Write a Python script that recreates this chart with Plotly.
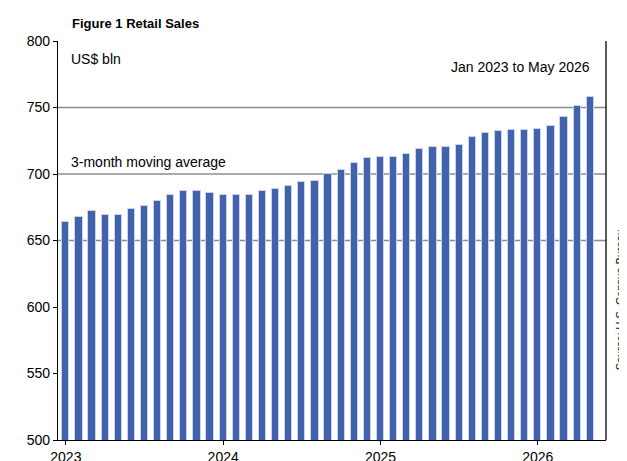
import plotly.graph_objects as go

months = list(range(41))
sales = [664, 668, 672, 669, 669, 674, 676, 680, 684, 687, 687, 686,
         684, 684, 684, 687, 689, 691, 694, 695, 700, 703, 708, 712,
         713, 713, 715, 719, 720, 720, 722, 728, 731, 732, 733, 733,
         734, 736, 743, 751, 758]
year_ticks = [0, 12, 24, 36]
year_labels = ["2023", "2024", "2025", "2026"]
grid_levels = [650, 700, 750]

fig = go.Figure(go.Bar(
    x=months, y=sales, width=0.55,
    marker=dict(color="#4262AE", line=dict(color="#C9D3EA", width=1)),
))

for g in grid_levels:
    fig.add_shape(type="line", xref="paper", x0=0, x1=1, yref="y", y0=g, y1=g,
                  line=dict(color="#8c8c8c", width=1.3), layer="below")
fig.add_shape(type="line", xref="paper", x0=1, x1=1, yref="paper", y0=0, y1=1,
              line=dict(color="black", width=1.3))

fig.update_layout(
    width=627, height=461,
    margin=dict(l=50, r=29, t=33, b=29, autoexpand=False),
    plot_bgcolor="white", paper_bgcolor="white",
    font=dict(family="Arial, Liberation Sans", size=14, color="black"),
    showlegend=False,
    bargap=0,
)
fig.update_xaxes(range=[-0.6, 41.2], tickvals=year_ticks, ticktext=year_labels,
                 showline=True, linecolor="black", linewidth=1.3, showgrid=False,
                 ticks="outside", ticklen=4, tickcolor="black", automargin=False)
fig.update_yaxes(range=[500, 800], dtick=50, showline=True, linecolor="black",
                 linewidth=1.3, showgrid=False, ticks="outside", ticklen=4,
                 tickcolor="black", automargin=False)

fig.add_annotation(text="<b>Figure 1 Retail Sales</b>", xref="paper", yref="paper",
                   x=0.022, y=1.0, yshift=18, xanchor="left", yanchor="middle",
                   showarrow=False, font=dict(size=13))
fig.add_annotation(text="US$ bln", xref="paper", yref="paper", x=0.02, y=0.955,
                   xanchor="left", yanchor="middle", showarrow=False, font=dict(size=14))
fig.add_annotation(text="Jan 2023 to May 2026", xref="paper", yref="paper", x=0.975,
                   y=0.935, xanchor="right", yanchor="middle", showarrow=False,
                   font=dict(size=14))
fig.add_annotation(text="3-month moving average", xref="paper", yref="paper",
                   x=0.02, y=0.697, xanchor="left", yanchor="middle",
                   showarrow=False, font=dict(size=14))
fig.add_annotation(text="Source: U.S. Census Bureau", xref="paper", yref="paper",
                   x=1.0, xshift=14, y=0.35, xanchor="center", yanchor="middle",
                   textangle=-90, showarrow=False, font=dict(size=11, color="black"))

fig.write_html("out.html")
